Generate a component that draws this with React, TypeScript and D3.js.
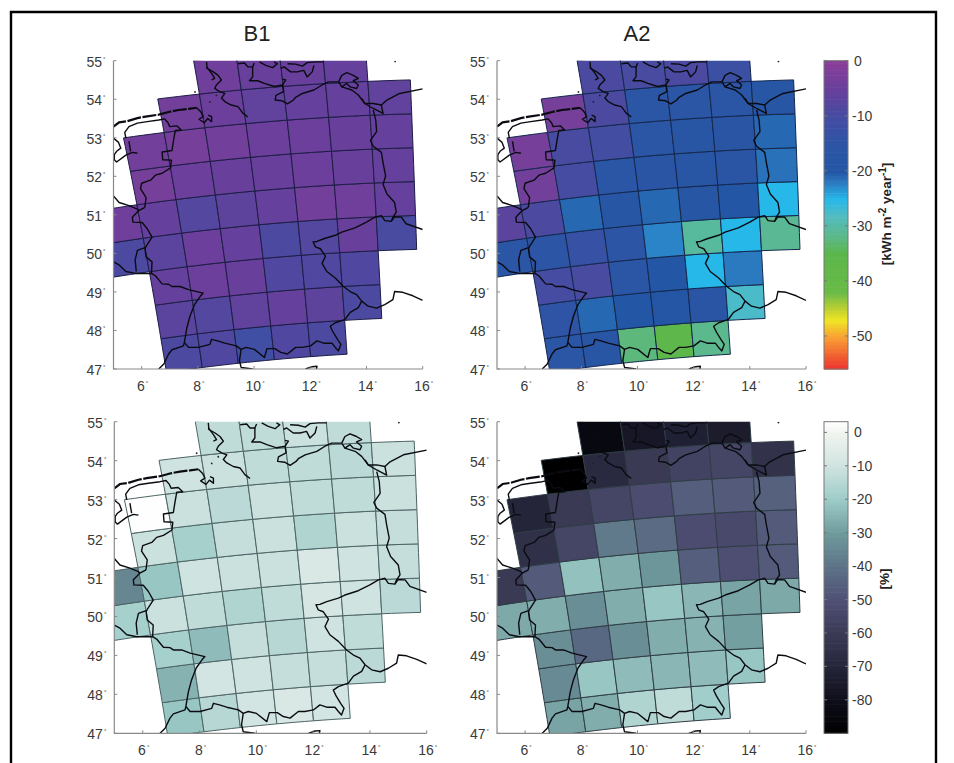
import React from 'react';
import * as d3 from 'd3';

const FONT = '"Liberation Sans", Arial, sans-serif';

// rotated grid of the regional model (pole at 162W, 39.25N)
const poleLon = -162;
const poleLat = 39.25;
const rlonEdges = [-8.46, -7.58, -6.7, -5.82, -4.94, -4.06, -3.18, -2.3, -1.42];
const rlatEdges = [-3.265, -2.385, -1.505, -0.625, 0.255, 1.135, 2.015, 2.895, 3.775, 4.655];

const lonTicks = [6, 8, 10, 12, 14, 16];
const latTicks = [47, 48, 49, 50, 51, 52, 53, 54, 55];

// rows run south to north, columns west to east
type Row = (number | null)[];
const b1Energy: Row[] = [
  [null, -9, -8.5, -11, -8.5, -9, null, null],
  [null, -7, -8, -6, -5.5, -6.5, -9, null],
  [null, -5.5, -4.5, -5, -8.5, -8.5, -8.5, null],
  [-9, -7, -4.5, -5.5, -9, -8, -5, -9.5],
  [-4, -5.5, -8, -6.5, -5.5, -3.5, -4, -5.5],
  [null, -3, -4.5, -5, -5, -4.5, -5, -5.5],
  [null, -3.5, -3, -3.5, -4.5, -4.5, -5, -5.5],
  [null, null, -3.5, -4.5, -6, -5.5, -5.5, -6],
  [null, null, null, -4, -5, -5, -5.5, null],
];
const a2Energy: Row[] = [
  [null, -16, -17, -32.5, -36, -31.5, null, null],
  [null, -14.5, -21, -20, -19, -16.5, -27.5, null],
  [null, -10, -9.5, -16, -20, -25, -22, null],
  [-16, -15, -13, -15, -22.5, -30.5, -25, -31],
  [-7, -9, -21, -18, -21, -18, -20, -25],
  [null, -3.5, -10, -16, -16.5, -17, -16.5, -21.5],
  [null, -3, -9.5, -10.5, -16, -17, -16.5, -21],
  [null, null, -3, -9, -16, -16, -16, -18],
  [null, null, null, -9, -9.5, -9, -12, null],
];
const b1Percent: Row[] = [
  [null, -21, -15, -9, -7, -9, null, null],
  [null, -25, -9, -10, -12, -12, -14, null],
  [null, -18, -23, -12, -15, -10, -13, null],
  [-18, -11, -13, -16, -13, -8, -10, -14],
  [-35, -21, -10, -11, -11, -7, -10, -12],
  [null, -11, -18, -12, -11, -16, -11, -12],
  [null, 3, -11, -14, -11, -13, -13, -11],
  [null, null, -10, -11, -13, -13, -14, -11],
  [null, null, null, -13, -13, -11, -13, null],
];
const a2Percent: Row[] = [
  [null, -28, -26, -16, -13, -19, null, null],
  [null, -34, -21, -23, -24, -23, -21, null],
  [null, -33, -43, -33, -26, -25, -29, null],
  [-27, -26, -33, -26, -21, -24, -28, -27],
  [-60, -47, -22, -26, -31, -46, -51, -47],
  [null, -65, -55, -38, -42, -52, -53, -47],
  [null, -70, -60, -55, -52, -46, -47, -45],
  [null, null, -90, -68, -60, -56, -55, -64],
  [null, null, null, -84, -76, -72, -74, null],
];

const energyTicks = [0, -10, -20, -30, -40, -50];
const energyStops = [0, -5, -10, -15, -20, -22, -25, -28, -32, -35, -42, -45, -47, -50, -56];
const energyColors = ['#8a3f99', '#683f9b', '#454ca2', '#2d55a5', '#2356a5', '#2b7ac0', '#27b8ea', '#52bcc2',
  '#5cb885', '#5bb64a', '#6abb47', '#c0d130', '#efe625', '#f8a133', '#ec2f2f'];
const percentTicks = [0, -10, -20, -30, -40, -50, -60, -70, -80];
const percentStops = [3.2, 0, -10, -20, -30, -40, -50, -60, -70, -80, -90];
const percentColors = ['#ffffff', '#f0f4ef', '#cfe3e0', '#9ccbc7', '#6f9a9c', '#5d7287', '#4f5075', '#3a3a55',
  '#25253a', '#0e0e1a', '#000000'];

// coastlines and borders, [lon, lat]
type Pt = [number, number];
const frisianIslands: Pt[] = [[5, 53.29], [5.2, 53.4], [5.49, 53.43], [5.85, 53.51], [6.14, 53.55], [6.61, 53.6],
  [6.96, 53.67], [7.31, 53.72], [7.67, 53.75], [7.96, 53.78]];
const jadeWeser: Pt[] = [[7.96, 53.78], [8.11, 53.67], [8.19, 53.55], [8.04, 53.48],
  [8.23, 53.39], [8.35, 53.5], [8.49, 53.42], [8.49, 53.55], [8.37, 53.59]];
const westBorder: Pt[] = [[5.44, 52.99], [5.4, 53.14], [5.55, 53.29], [5.85, 53.38], [6.2, 53.42], [6.61, 53.46],
  [6.82, 53.49], [6.94, 53.39], [7, 53.29], [7.25, 53.31], [7.41, 53.2], [7.2, 53.19], [7.14, 52.95], [7.08, 52.67],
  [6.73, 52.63], [6.75, 52.43], [7.06, 52.42], [7.03, 52.22], [6.73, 52.08], [6.49, 52.03], [6.32, 51.9], [6, 51.82],
  [5.96, 51.68], [6.16, 51.45], [6.12, 51.22], [6.1, 51.19], [5.9, 51.11], [5.67, 50.94], [5.69, 50.81], [6.02, 50.8],
  [6.2, 50.64], [6.37, 50.42], [6.16, 50.18], [6.12, 50.12], [6.16, 49.91], [6.37, 49.78], [6.35, 49.48], [6.49, 49.42],
  [6.73, 49.21], [6.96, 49.2], [7.08, 49.14], [7.37, 49.14], [7.67, 49.06], [8.19, 48.97], [8.08, 48.88], [7.88, 48.67],
  [7.72, 48.37], [7.61, 48.07], [7.52, 47.69]];
const alpineBorder: Pt[] = [[7.52, 47.69], [7.67, 47.56], [8.02, 47.56], [8.43, 47.64], [8.49, 47.77], [8.7, 47.73],
  [8.96, 47.67], [9.37, 47.6], [9.54, 47.51], [9.72, 47.56], [10.01, 47.51], [10.37, 47.3], [10.46, 47.53], [10.74, 47.53],
  [10.95, 47.43], [11.19, 47.39], [11.48, 47.56], [11.71, 47.56], [12.01, 47.6], [12.24, 47.73], [12.48, 47.67],
  [12.77, 47.67], [12.89, 47.56], [13, 47.47], [13.09, 47.64], [12.97, 47.77], [12.81, 47.96], [12.71, 48.11],
  [12.89, 48.2], [13.24, 48.29], [13.42, 48.47], [13.71, 48.59], [13.83, 48.76]];
const czechBorder: Pt[] = [[13.83, 48.76], [13.65, 48.93], [13.42, 49.01], [13.18, 49.14], [12.89, 49.36], [12.59, 49.53],
  [12.42, 49.74], [12.54, 49.93], [12.36, 50.12], [12.18, 50.17], [12.1, 50.3], [12.24, 50.31], [12.48, 50.38],
  [12.89, 50.47], [13.12, 50.55], [13.59, 50.66], [14, 50.81], [14.3, 50.94], [14.53, 50.98], [14.65, 50.85], [14.88, 50.83],
  [15, 50.95], [15.24, 50.94], [15.41, 50.77], [16, 50.62]];
const austriaCzech: Pt[] = [[13.83, 48.76], [14.06, 48.63], [14.36, 48.58], [14.65, 48.67], [14.94, 48.8], [15, 49.01],
  [15.29, 48.99], [15.65, 48.9], [16, 48.78]];
const polishBorder: Pt[] = [[14.24, 53.72], [14.33, 53.46], [14.36, 53.16], [14.14, 52.93], [14.24, 52.78], [14.53, 52.62],
  [14.59, 52.35], [14.68, 52.01], [14.59, 51.79], [14.73, 51.54], [15, 51.32], [15.06, 51.07], [14.94, 50.94], [14.88, 50.83]];
const dutchInland: Pt[] = [[5, 52.99], [5.18, 52.88], [5.26, 52.73], [5.11, 52.65], [5.03, 52.56], [5.03, 52.43], [5.11, 52.37],
  [5.44, 52.55], [5.67, 52.62], [5.85, 52.6]];
const dutchBranch: Pt[] = [[5.55, 52.91], [5.61, 52.65]];
const belgianDutch: Pt[] = [[5, 51.49], [5.2, 51.32], [5.55, 51.24], [5.85, 51.15], [5.9, 51.11]];
const belgianLux: Pt[] = [[5, 49.78], [5.2, 49.7], [5.44, 49.53], [5.79, 49.48], [6.35, 49.48]];
const luxLoop: Pt[] = [[6.12, 50.15], [5.85, 50.08], [5.77, 49.83], [5.81, 49.53]];
const frenchSwiss: Pt[] = [[7.52, 47.69], [7.49, 47.6], [7.08, 47.5], [6.96, 47.39], [6.79, 47.13], [6.61, 47]];
const bodensee: Pt[] = [[9.54, 47.51], [9.48, 47.22], [9.54, 47.04], [9.95, 47]];
const southTip: Pt[] = [[11.83, 47], [12.07, 47.06], [12.24, 47.07], [12.22, 47]];
const jutlandWest: Pt[] = [[8.31, 54.97], [8.33, 54.8], [8.55, 54.71], [8.72, 54.62], [8.84, 54.5], [8.66, 54.37], [8.6, 54.28],
  [8.78, 54.2], [8.96, 54.15], [8.84, 54.03], [8.96, 53.94], [9.19, 53.85], [9.43, 53.81], [9.6, 53.64], [9.78, 53.54]];
const northSeaIsles: Pt[] = [[8.31, 54.84], [8.49, 54.67], [8.6, 54.54], [8.49, 54.5]];
const flensburg: Pt[] = [[9.43, 54.92], [9.66, 54.94], [9.78, 54.84], [9.95, 54.84], [10.01, 54.94]];
const kielCoast: Pt[] = [[9.95, 54.84], [9.95, 54.58], [9.84, 54.48], [10.13, 54.48], [10.37, 54.41], [10.72, 54.33], [11.01, 54.37],
  [11.13, 54.5], [11.01, 54.52]];
const danishIsles: Pt[] = [[10.19, 54.97], [10.42, 54.88], [10.66, 54.82], [10.83, 54.92], [10.71, 54.97]];
const lollandCoast: Pt[] = [[10.95, 54.8], [11.07, 54.84], [11.3, 54.71], [11.54, 54.71], [11.77, 54.75], [11.89, 54.58],
  [12.07, 54.71], [12.13, 54.88]];
const falsterCoast: Pt[] = [[11.19, 54.92], [11.48, 54.91], [11.72, 54.86], [11.89, 54.95], [12.19, 54.97], [12.48, 54.97]];
const lubeckBay: Pt[] = [[11.01, 54.37], [11.05, 54.2], [10.78, 54.1], [10.75, 53.98], [11, 53.96], [11.19, 53.88], [11.4, 53.98],
  [11.48, 54.05], [11.72, 54.15], [12.13, 54.24], [12.42, 54.37], [12.65, 54.45], [13.01, 54.45]];
const rugenLoop: Pt[] = [[13.01, 54.45], [13.12, 54.62], [13.3, 54.69], [13.53, 54.62], [13.71, 54.54], [13.53, 54.48], [13.71, 54.37],
  [13.65, 54.28], [13.42, 54.32], [13.3, 54.41], [13.12, 54.32], [13.01, 54.45]];
const pommerCoast: Pt[] = [[13.12, 54.32], [13.48, 54.24], [13.71, 54.11], [13.94, 53.89], [14.24, 53.76], [14.59, 53.63],
  [14.53, 53.85], [14.71, 53.97], [15.18, 54.15], [16, 54.27]];
const oderLagoon: Pt[] = [[13.83, 54.02], [13.94, 53.89], [14.24, 53.89], [14.53, 53.85]];
const outlines = [jadeWeser, westBorder, alpineBorder, czechBorder, austriaCzech, polishBorder, dutchInland, dutchBranch,
  belgianDutch, belgianLux, luxLoop, frenchSwiss, bodensee, southTip, jutlandWest, northSeaIsles, flensburg, kielCoast,
  danishIsles, lollandCoast, falsterCoast, lubeckBay, rugenLoop, pommerCoast, oderLagoon];
const islandDots: Pt[] = [[7.9, 54.19], [15.02, 54.98], [8.43, 53.93], [8.66, 54.1]];

const rad = Math.PI / 180;

// rotated model coordinates back to geographic lon/lat
function unrotate(rlon: number, rlat: number): Pt {
  const l = rlon * rad;
  const p = rlat * rad;
  const sp = Math.sin(poleLat * rad);
  const cp = Math.cos(poleLat * rad);
  const lat = Math.asin(Math.sin(p) * sp + Math.cos(p) * Math.cos(l) * cp);
  const lon = Math.atan2(Math.cos(p) * Math.sin(l), sp * Math.cos(p) * Math.cos(l) - Math.sin(p) * cp);
  return [lon / rad + poleLon + 180, lat / rad];
}

function cellRing(col: number, row: number): Pt[] {
  const ring: Pt[] = [];
  const l0 = rlonEdges[col], l1 = rlonEdges[col + 1];
  const p0 = rlatEdges[row], p1 = rlatEdges[row + 1];
  const steps = [0, 0.25, 0.5, 0.75];
  steps.forEach(t => ring.push(unrotate(l0 + (l1 - l0) * t, p0)));
  steps.forEach(t => ring.push(unrotate(l1, p0 + (p1 - p0) * t)));
  steps.forEach(t => ring.push(unrotate(l1 - (l1 - l0) * t, p1)));
  steps.forEach(t => ring.push(unrotate(l0, p1 - (p1 - p0) * t)));
  return ring;
}

function Degree({ x, y, anchor, label, size }: { x: number; y: number; anchor: string; label: number; size: number }) {
  return (
    <text x={x} y={y} textAnchor={anchor} fontFamily={FONT} fontSize={size} fill="#3a3a3a">
      {label}
      <tspan dy={-6} dx={1} fontSize={6}>°</tspan>
    </text>
  );
}

interface MapProps {
  id: string;
  left: number;
  right: number;
  top: number;
  bottom: number;
  values: Row[];
  color: d3.ScaleLinear<string, string>;
  gridColor: string;
}

function MapPanel({ id, left, right, top, bottom, values, color, gridColor }: MapProps) {
  const x = d3.scaleLinear().domain([5, 16]).range([left, right]);
  const y = d3.scaleLinear().domain([47, 55]).range([bottom, top]);
  const line = d3.line<Pt>().x(d => x(d[0])).y(d => y(d[1]));

  return (
    <g>
      <clipPath id={id}>
        <rect x={left} y={top} width={right - left} height={bottom - top} />
      </clipPath>
      <g clipPath={`url(#${id})`}>
        {values.map((row, r) =>
          row.map((v, c) =>
            v === null ? null : (
              <path
                key={`${r}-${c}`}
                d={line(cellRing(c, r)) + 'Z'}
                fill={color(v)}
                stroke={gridColor}
                strokeWidth={1}
                strokeLinejoin="round"
              />
            )
          )
        )}
        {outlines.map((o, i) => (
          <path key={i} d={line(o) || ''} fill="none" stroke="#0b0b12" strokeWidth={1.4} strokeLinejoin="round" />
        ))}
        <path d={line(frisianIslands) || ''} fill="none" stroke="#0b0b12" strokeWidth={2.2} strokeDasharray="14 1.5" />
        {islandDots.map((d, i) => (
          <circle key={i} cx={x(d[0])} cy={y(d[1])} r={0.9} fill="#222" />
        ))}
      </g>
      <path
        d={`M${left},${top}V${bottom}H${right}`}
        fill="none"
        stroke="#8a8a8a"
        strokeWidth={1.2}
      />
      {latTicks.map(t => (
        <g key={t}>
          <line x1={left} x2={left + 3} y1={y(t)} y2={y(t)} stroke="#8a8a8a" />
          <Degree x={left - 8} y={y(t) + 6} anchor="end" label={t} size={14} />
        </g>
      ))}
      {lonTicks.map(t => (
        <g key={t}>
          <line x1={x(t)} x2={x(t)} y1={bottom} y2={bottom - 3} stroke="#8a8a8a" />
          <Degree x={x(t) + 1} y={bottom + 22} anchor="middle" label={t} size={14} />
        </g>
      ))}
    </g>
  );
}

interface BarProps {
  left: number;
  right: number;
  top: number;
  bottom: number;
  domain: [number, number];
  ticks: number[];
  color: d3.ScaleLinear<string, string>;
}

function ColorBar({ left, right, top, bottom, domain, ticks, color }: BarProps) {
  const y = d3.scaleLinear().domain(domain).range([top, bottom]);
  const bands = d3.range(128).map(i => domain[0] + ((domain[1] - domain[0]) * i) / 128);
  const bandHeight = (bottom - top) / 128 + 0.6;
  return (
    <g>
      {bands.map((b, i) => (
        <rect key={i} x={left} y={y(b)} width={right - left} height={bandHeight} fill={color(b)} />
      ))}
      <rect x={left} y={top} width={right - left} height={bottom - top} fill="none" stroke="#777" strokeWidth={1} />
      {ticks.map(t => (
        <g key={t}>
          <line x1={left} x2={left + 3} y1={y(t)} y2={y(t)} stroke="#777" />
          <line x1={right - 3} x2={right} y1={y(t)} y2={y(t)} stroke="#777" />
          <text x={right + (t === 0 ? 6 : 4)} y={y(t) + 5} fontFamily={FONT} fontSize={14} fill="#3a3a3a">
            {t}
          </text>
        </g>
      ))}
    </g>
  );
}

export default function App() {
  const energyColor = d3.scaleLinear<string>().domain(energyStops).range(energyColors).clamp(true);
  const percentColor = d3.scaleLinear<string>().domain(percentStops).range(percentColors).clamp(true);

  return (
    <svg width={954} height={763} style={{ position: 'absolute', left: 0, top: 0, background: '#fff' }}>
      <path d="M11,763V12H936V763" fill="none" stroke="#000" strokeWidth={2.4} />
      <text x={257} y={41} textAnchor="middle" fontFamily={FONT} fontSize={22} fill="#222">B1</text>
      <text x={637} y={41} textAnchor="middle" fontFamily={FONT} fontSize={22} fill="#222">A2</text>

      <MapPanel id="m1" left={113.5} right={422.7} top={60.7} bottom={369} values={b1Energy} color={energyColor} gridColor="#1d1d45" />
      <MapPanel id="m2" left={497} right={806} top={60.7} bottom={369} values={a2Energy} color={energyColor} gridColor="#14284e" />
      <MapPanel id="m3" left={114.3} right={426.7} top={421.7} bottom={733.3} values={b1Percent} color={percentColor} gridColor="#4d6465" />
      <MapPanel id="m4" left={497} right={806} top={421.7} bottom={733.3} values={a2Percent} color={percentColor} gridColor="#2f3d44" />

      <ColorBar left={824} right={848} top={60.7} bottom={369} domain={[0, -56]} ticks={energyTicks} color={energyColor} />
      <ColorBar left={824} right={848} top={421.7} bottom={733.3} domain={[3.2, -90]} ticks={percentTicks} color={percentColor} />

      <text
        transform="translate(891,214) rotate(-90)"
        textAnchor="middle"
        fontFamily={FONT}
        fontSize={13.5}
        fontWeight="bold"
        fill="#222"
      >
        [kWh m<tspan dy={-5} fontSize={10}>-2</tspan>
        <tspan dy={5}> year</tspan>
        <tspan dy={-5} fontSize={10}>-1</tspan>
        <tspan dy={5}>]</tspan>
      </text>
      <text
        transform="translate(889,579) rotate(-90)"
        textAnchor="middle"
        fontFamily={FONT}
        fontSize={13.5}
        fontWeight="bold"
        fill="#222"
      >
        [%]
      </text>
    </svg>
  );
}
